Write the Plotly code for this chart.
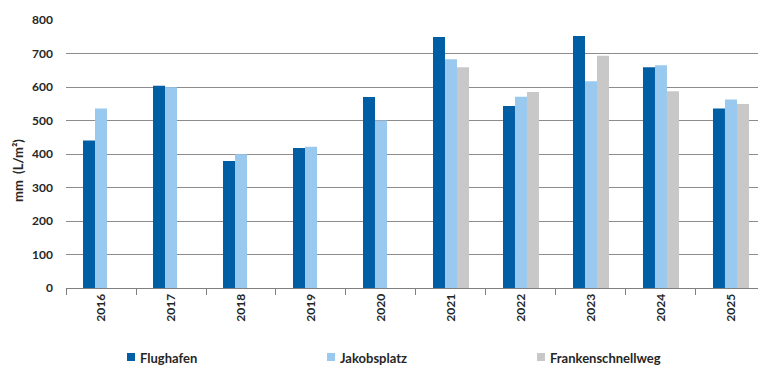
import plotly.graph_objects as go

years = ["2016", "2017", "2018", "2019", "2020", "2021", "2022", "2023", "2024", "2025"]
flughafen = [440, 604, 379, 418, 570, 749, 543, 752, 659, 536]
jakobsplatz = [536, 599, 399, 422, 500, 683, 571, 617, 665, 563]
frankenschnellweg = [None, None, None, None, None, 659, 585, 693, 587, 549]

series_names = ["Flughafen", "Jakobsplatz", "Frankenschnellweg"]
series_values = [flughafen, jakobsplatz, frankenschnellweg]
series_colors = ["#005EA4", "#99C9EF", "#C8C8C8"]

FONT = "Lato"
TXT = "#262626"
W, H = 758, 365
ML, MR, MT, MB = 66, 0, 20, 77
PW, PH = W - ML - MR, H - MT - MB


def px_x(p):
    return (p - ML) / PW


def px_y(p):
    return (H - MB - p) / PH


fig = go.Figure()
for name, vals, col in zip(series_names, series_values, series_colors):
    fig.add_trace(go.Bar(name=name, x=years, y=vals, showlegend=False,
                         marker=dict(color=col, line=dict(width=0))))

# manual legend (square + label), positioned like the reference
legend_px = [127, 327, 537]
for name, col, lx in zip(series_names, series_colors, legend_px):
    fig.add_shape(type="rect", xref="paper", yref="paper",
                  x0=px_x(lx), x1=px_x(lx + 8), y0=px_y(361), y1=px_y(353),
                  fillcolor=col, line=dict(width=0))
    fig.add_annotation(text=f"<b>{name}</b>", xref="paper", yref="paper",
                       x=px_x(lx + 11), y=px_y(357.5), xanchor="left", yanchor="middle",
                       showarrow=False, font=dict(family=FONT, size=13, color=TXT))

# y-axis title
fig.add_annotation(text="<b>mm  (L/m²)</b>", xref="paper", yref="paper",
                   x=px_x(18), y=px_y(171), xanchor="center", yanchor="middle",
                   textangle=-90, showarrow=False,
                   font=dict(family=FONT, size=13, color=TXT))

fig.update_layout(
    width=W, height=H,
    margin=dict(l=ML, r=MR, t=MT, b=MB),
    paper_bgcolor="white", plot_bgcolor="white",
    barmode="group", bargap=0.486, bargroupgap=0,
    font=dict(family=FONT, size=12, color=TXT),
    showlegend=False,
)
fig.update_xaxes(
    type="category", range=[-0.5, 9.386],
    showline=True, linecolor="#7f7f7f", linewidth=1,
    ticks="outside", tickson="boundaries", ticklen=6, tickcolor="#7f7f7f",
    tickangle=-90, showgrid=False,
    tickfont=dict(family=FONT, size=12, color=TXT, weight="bold"),
)
fig.update_yaxes(
    range=[0, 800], dtick=100, tick0=0,
    showgrid=True, gridcolor="#8c8c8c", gridwidth=1,
    zeroline=False, showline=False, ticks="",
    ticklabelstandoff=12,
    tickfont=dict(family=FONT, size=12, color=TXT, weight="bold"),
)

fig.write_html("out.html")
